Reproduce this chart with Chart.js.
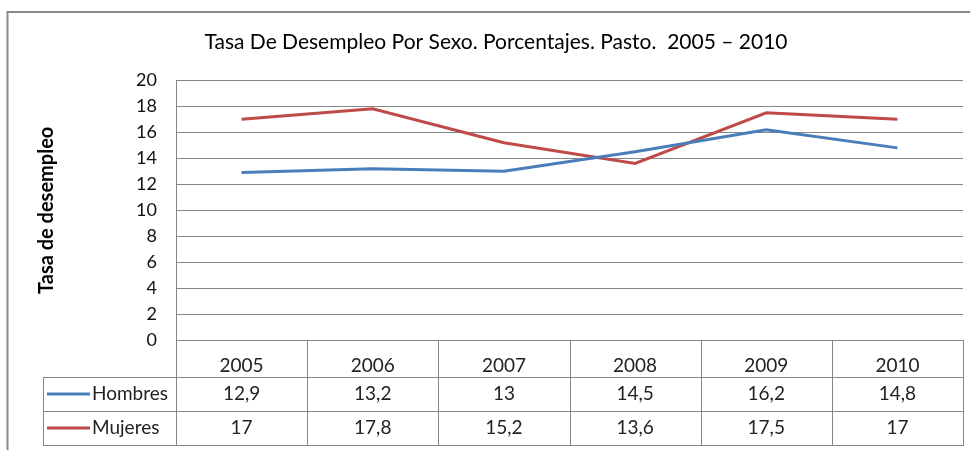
<!DOCTYPE html>
<html>
<head>
<meta charset="utf-8">
<script src="https://cdn.jsdelivr.net/npm/chart.js@4"></script>
<style>
  html, body { margin: 0; padding: 0; background: #fff; }
  #wrap { width: 970px; height: 450px; }
</style>
</head>
<body>
<div id="wrap"><canvas id="chart" width="970" height="450"></canvas></div>
<script>
// data
const years = ["2005", "2006", "2007", "2008", "2009", "2010"];
const hombres = [12.9, 13.2, 13, 14.5, 16.2, 14.8];
const mujeres = [17, 17.8, 15.2, 13.6, 17.5, 17];
const yTicks = [0, 2, 4, 6, 8, 10, 12, 14, 16, 18, 20];

const FONT = "Lato, 'Open Sans', sans-serif";
const BLUE = "#4a7ebb";
const RED = "#be4b48";
const GRID = "#868686";

// frame + data table below the plot
const tablePlugin = {
  id: "dataTable",
  afterDraw(chart) {
    const ctx = chart.ctx;
    const x = chart.scales.x;
    const area = chart.chartArea;
    const colW = (area.right - area.left) / years.length;
    const tableLeft = 43;
    const rowTops = [377, 411, 445];

    ctx.save();
    // outer frame
    ctx.strokeStyle = "#8a8a8a";
    ctx.lineWidth = 2;
    ctx.beginPath();
    ctx.moveTo(7.5, 450);
    ctx.lineTo(7.5, 12);
    ctx.lineTo(970, 12);
    ctx.stroke();

    // table lines
    ctx.strokeStyle = GRID;
    ctx.lineWidth = 1;
    ctx.beginPath();
    for (let i = 0; i <= years.length; i++) {
      const px = Math.round(area.left + i * colW) + 0.5;
      ctx.moveTo(px, area.bottom);
      ctx.lineTo(px, rowTops[2]);
    }
    ctx.moveTo(tableLeft + 0.5, rowTops[0]);
    ctx.lineTo(tableLeft + 0.5, rowTops[2]);
    rowTops.forEach(function (ry) {
      ctx.moveTo(tableLeft, ry + 0.5);
      ctx.lineTo(Math.round(area.right) + 1, ry + 0.5);
    });
    ctx.stroke();

    // rows
    const rows = [
      { name: "Hombres", color: BLUE, values: hombres },
      { name: "Mujeres", color: RED, values: mujeres },
    ];
    ctx.font = "19px " + FONT;
    ctx.textBaseline = "middle";
    rows.forEach(function (row, r) {
      const cy = (rowTops[r] + rowTops[r + 1]) / 2;
      ctx.strokeStyle = row.color;
      ctx.lineWidth = 3;
      ctx.beginPath();
      ctx.moveTo(47, cy);
      ctx.lineTo(90, cy);
      ctx.stroke();
      ctx.fillStyle = "#222";
      ctx.textAlign = "left";
      ctx.fillText(row.name, 92, cy);
      ctx.textAlign = "center";
      row.values.forEach(function (v, i) {
        ctx.fillText(String(v).replace(".", ","), x.getPixelForValue(i), cy);
      });
    });
    ctx.restore();
  },
};

new Chart(document.getElementById("chart"), {
  type: "line",
  data: {
    labels: years,
    datasets: [
      { label: "Hombres", data: hombres, borderColor: BLUE, borderWidth: 3, pointRadius: 0, tension: 0 },
      { label: "Mujeres", data: mujeres, borderColor: RED, borderWidth: 3, pointRadius: 0, tension: 0 },
    ],
  },
  options: {
    responsive: false,
    animation: false,
    layout: { padding: { top: 0, left: 29, right: 7, bottom: 0 } },
    plugins: {
      legend: { display: false },
      tooltip: { enabled: false },
      title: {
        display: true,
        text: "Tasa De Desempleo Por Sexo. Porcentajes. Pasto.  2005 \u2013 2010",
        color: "#000",
        font: { family: FONT, size: 21, weight: "normal" },
        padding: { top: 30, bottom: 25 },
      },
    },
    scales: {
      x: {
        offset: true,
        grid: { display: false, offset: true },
        border: { display: true, color: GRID },
        ticks: { color: "#222", font: { family: FONT, size: 19 }, padding: 6 },
        afterFit(scale) { scale.height = 109.5; },
      },
      y: {
        min: 0,
        max: 20,
        afterBuildTicks(scale) { scale.ticks = yTicks.map(function (v) { return { value: v }; }); },
        grid: { color: GRID, drawTicks: false },
        border: { display: true, color: GRID },
        ticks: { color: "#111", font: { family: FONT, size: 18 }, padding: 19 },
        title: {
          display: true,
          text: "Tasa de desempleo",
          color: "#000",
          font: { family: FONT, size: 20, weight: "bold" },
          padding: { top: 6, bottom: 0 },
        },
        afterFit(scale) { scale.width = 147; },
      },
    },
  },
  plugins: [tablePlugin],
});
</script>
</body>
</html>
